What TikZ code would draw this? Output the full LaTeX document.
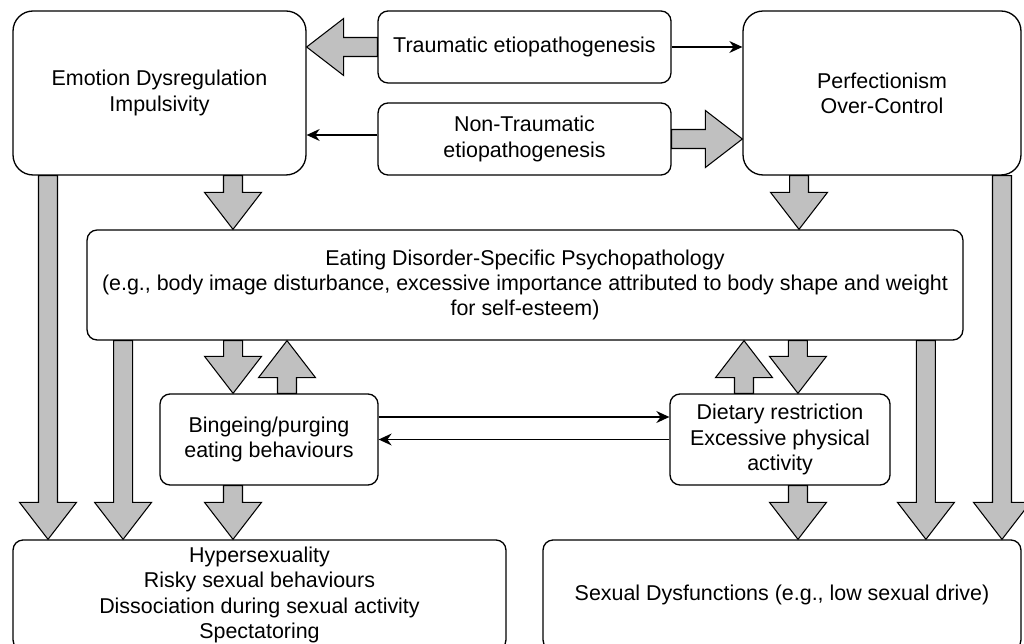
\documentclass[tikz,border=0pt]{standalone}
\usepackage{fontspec}
\setmainfont{Liberation Sans}
\usepackage{tikz}
\usetikzlibrary{positioning}
\usetikzlibrary{arrows.meta,shapes}
\usetikzlibrary{calc}

\definecolor{fatgray}{RGB}{192,192,192}

\tikzset{
  box/.style={draw, line width=0.75pt, rounded corners=0.2cm, fill=white, align=center,
    inner sep=0pt, font=\fontsize{12.2}{14.3}\selectfont},
  bigbox/.style={box, rounded corners=0.4cm},
  fatarrow/.style={draw, fill=fatgray, line width=0.6pt, line join=miter},
  thinarrow/.style={line width=0.75pt, -{Stealth[length=7.4pt,width=6.8pt,inset=2.4pt]}}
}

% fat block arrow from #1 to #2
\newcommand{\shaftw}{0.19cm}
\newcommand{\headw}{0.57cm}
\newcommand{\headlen}{0.74cm}
\newcommand{\fatarrow}[2]{%
  \path (#1) coordinate (fa-s);
  \path (#2) coordinate (fa-t);
  \coordinate (fa-h) at ($(fa-t)!\headlen!(fa-s)$);
  \draw[fatarrow] ($(fa-s)!\shaftw!90:(fa-t)$) -- ($(fa-h)!\shaftw!90:(fa-t)$)
    -- ($(fa-h)!\headw!90:(fa-t)$) -- (fa-t) -- ($(fa-h)!\headw!-90:(fa-t)$)
    -- ($(fa-h)!\shaftw!-90:(fa-t)$) -- ($(fa-s)!\shaftw!-90:(fa-t)$) -- cycle;
}

\begin{document}
\begin{tikzpicture}[x=0.02cm, y=-0.02cm]
 \useasboundingbox (0,0) rectangle (1024,644);
 \clip (0,0) rectangle (1024,644);

 %top row
 \node[bigbox, minimum width=5.86cm, minimum height=3.28cm] (emo) at (159.5,93)
   {Emotion Dysregulation\\Impulsivity};
 \node[box, minimum width=5.86cm, minimum height=1.44cm] (trau) at (524.5,47)
   {Traumatic etiopathogenesis};
 \node[box, minimum width=5.86cm, minimum height=1.44cm] (nontr) at (524.5,139)
   {Non-Traumatic\\etiopathogenesis};
 \node[bigbox, minimum width=5.56cm, minimum height=3.28cm] (perf) at (882,93)
   {Perfectionism\\Over-Control};

 %middle
 \node[box, minimum width=17.52cm, minimum height=2.2cm] (ed) at (525,285)
   {Eating Disorder-Specific Psychopathology\\
    (e.g., body image disturbance, excessive importance attributed to body shape and weight\\
    for self-esteem)};
 \node[box, minimum width=4.36cm, minimum height=1.82cm] (binge) at (269,439.5)
   {Bingeing/purging\\eating behaviours};
 \node[box, minimum width=4.4cm, minimum height=1.82cm] (diet) at (780,439.5)
   {Dietary restriction\\Excessive physical\\activity};

 %bottom row
 \node[box, minimum width=9.86cm, minimum height=2.2cm] (hyper) at (259.5,595)
   {Hypersexuality\\Risky sexual behaviours\\Dissociation during sexual activity\\Spectatoring};
 \node[box, minimum width=9.56cm, minimum height=2.2cm] (sexdys) at (782,595)
   {Sexual Dysfunctions (e.g., low sexual drive)};

 %fat arrows
 \fatarrow{trau.west}{fa-s -| emo.east}
 \fatarrow{nontr.east}{fa-s -| perf.west}
 \fatarrow{[xshift=1.47cm]emo.south}{fa-s |- ed.north}
 \fatarrow{[xshift=-1.66cm]perf.south}{fa-s |- ed.north}
 \fatarrow{[xshift=-2.23cm]emo.south}{fa-s |- hyper.north}
 \fatarrow{[xshift=-8.04cm]ed.south}{fa-s |- hyper.north}
 \fatarrow{[xshift=-5.84cm]ed.south}{fa-s |- binge.north}
 \fatarrow{[xshift=0.36cm]binge.north}{fa-s |- ed.south}
 \fatarrow{[xshift=-0.72cm]binge.south}{fa-s |- hyper.north}
 \fatarrow{[xshift=-0.72cm]diet.north}{fa-s |- ed.south}
 \fatarrow{[xshift=5.46cm]ed.south}{fa-s |- diet.north}
 \fatarrow{[xshift=0.36cm]diet.south}{fa-s |- sexdys.north}
 \fatarrow{[xshift=8.02cm]ed.south}{fa-s |- sexdys.north}
 \fatarrow{[xshift=2.4cm]perf.south}{fa-s |- sexdys.north}

 %thin arrows
 \coordinate (n1) at ([yshift=0.08cm]nontr.west);
 \coordinate (b1) at ([yshift=0.45cm]binge.east);
 \draw[thinarrow] (trau.east) -- (trau.east -| perf.west);
 \draw[thinarrow] (n1) -- (n1 -| emo.east);
 \draw[thinarrow] (b1) -- (b1 -| diet.west);
 \draw[thinarrow] (diet.west) -- (diet.west -| binge.east);

\end{tikzpicture}
\end{document}
